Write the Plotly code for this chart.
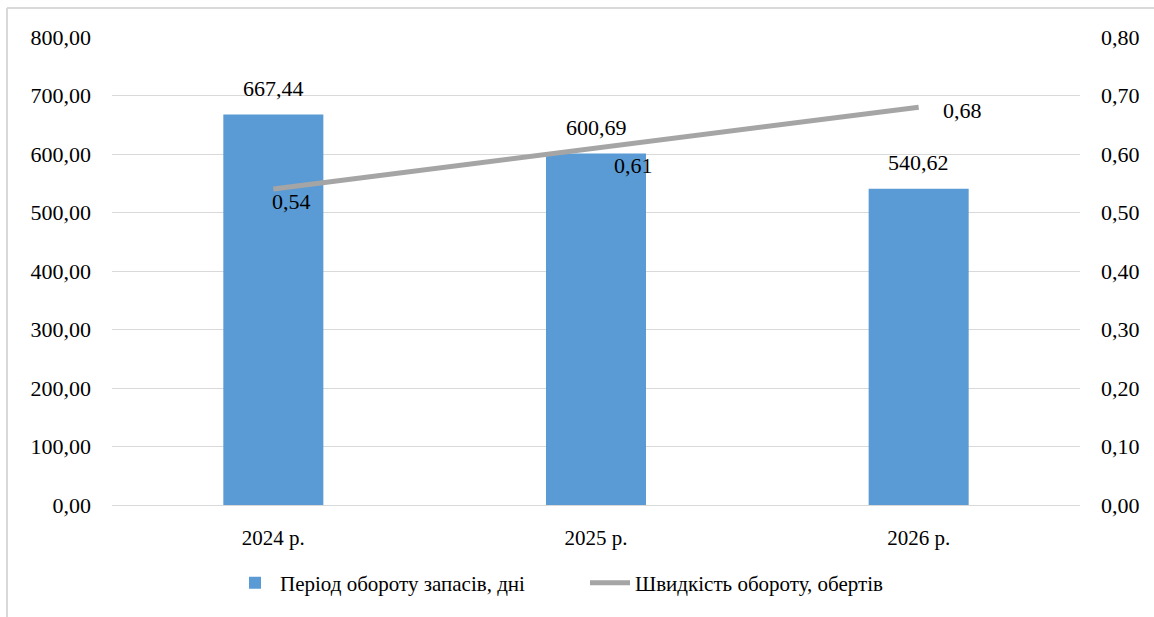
import plotly.graph_objects as go

categories = ["2024 р.", "2025 р.", "2026 р."]
period_days = [667.44, 600.69, 540.62]
turnover_speed = [0.54, 0.61, 0.68]
bar_labels = ["667,44", "600,69", "540,62"]
line_labels = ["0,54", "0,61", "0,68"]
left_ticks = [0, 100, 200, 300, 400, 500, 600, 700, 800]
right_ticks = [0, 0.1, 0.2, 0.3, 0.4, 0.5, 0.6, 0.7, 0.8]

FONT = "Liberation Serif"
BAR_COLOR = "#5B9BD5"
LINE_COLOR = "#A5A5A5"
GRID = "#D9D9D9"

fig = go.Figure()
fig.add_trace(go.Bar(
    x=categories, y=period_days, name="Період обороту запасів, дні",
    marker=dict(color=BAR_COLOR, line=dict(width=0)), width=0.31,
    hoverinfo="skip",
))
fig.add_trace(go.Scatter(
    x=categories, y=turnover_speed, name="Швидкість обороту, обертів",
    mode="lines", line=dict(color=LINE_COLOR, width=5), yaxis="y2",
    hoverinfo="skip",
))

annotations = []
for c, v, t in zip(categories, period_days, bar_labels):
    annotations.append(dict(x=c, y=v, xref="x", yref="y", text=t, showarrow=False,
                            yanchor="middle", xanchor="center", yshift=26,
                            font=dict(family=FONT, size=22, color="#000")))
shifts = [(18, -12), (37, -17), (44, -3)]
for c, v, t, (dx, dy) in zip(categories, turnover_speed, line_labels, shifts):
    annotations.append(dict(x=c, y=v, xref="x", yref="y2", text=t, showarrow=False,
                            yanchor="middle", xanchor="center", xshift=dx, yshift=dy,
                            font=dict(family=FONT, size=22, color="#000")))

L, R, T, B = 112, 74, 37, 112
PW, PH = 1154 - L - R, 617 - T - B
def px(x):
    return (x - L) / PW
def py(y):
    return (617 - B - y) / PH

shapes = [
    dict(type="line", xref="paper", yref="paper", x0=px(7), x1=px(7), y0=py(8), y1=py(620),
         line=dict(color=GRID, width=2)),
    dict(type="line", xref="paper", yref="paper", x0=px(7), x1=px(1160), y0=py(8), y1=py(8),
         line=dict(color=GRID, width=2)),
]

fig.update_layout(
    width=1154, height=617,
    margin=dict(l=L, r=R, t=T, b=B),
    paper_bgcolor="white", plot_bgcolor="white",
    separators=", ",
    font=dict(family=FONT, size=22, color="#000"),
    showlegend=True,
    legend=dict(orientation="h", x=px(585), xanchor="center", y=py(583), yanchor="middle",
                font=dict(family=FONT, size=21, color="#000"), bgcolor="rgba(0,0,0,0)",
                itemwidth=40, entrywidth=300, entrywidthmode="pixels"),
    xaxis=dict(showgrid=False, showline=True, linecolor=GRID, linewidth=1,
               tickfont=dict(family=FONT, size=21), ticks="", ticklabelstandoff=14),
    yaxis=dict(range=[0, 800], tickvals=left_ticks, tickformat=".2f", showgrid=True,
               gridcolor=GRID, gridwidth=1, zeroline=False, showline=False,
               tickfont=dict(family=FONT, size=22), ticklabelstandoff=20),
    yaxis2=dict(range=[0, 0.8], tickvals=right_ticks, tickformat=".2f", overlaying="y",
                side="right", showgrid=False, zeroline=False, showline=False,
                tickfont=dict(family=FONT, size=22), ticklabelstandoff=20),
    annotations=annotations,
    shapes=shapes,
    bargap=0.69,
)

fig.write_html("out.html")
